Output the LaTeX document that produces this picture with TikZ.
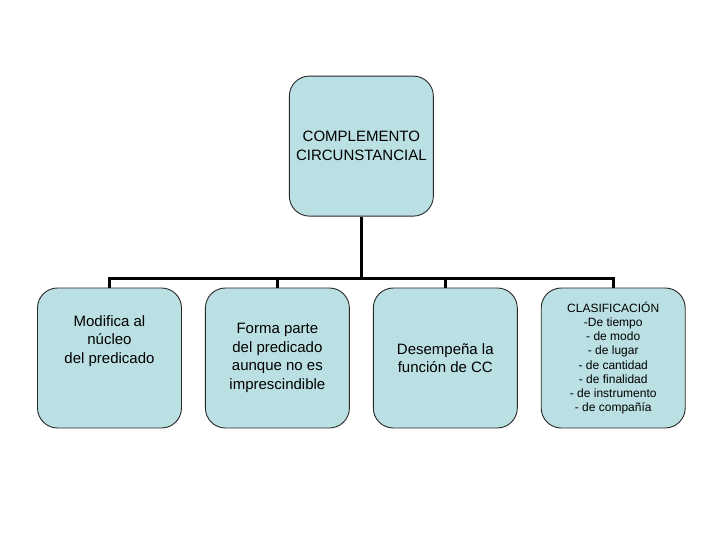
\documentclass[tikz,border=0pt]{standalone}
\usepackage{fontspec}
\setmainfont{Liberation Sans}
\usetikzlibrary{positioning, calc}
\definecolor{boxBlue}{RGB}{187, 224, 227}
\definecolor{boxEdge}{RGB}{40, 40, 40}

\begin{document}
\begin{tikzpicture}[
    node distance=23pt,
    font=\fontsize{15}{18.6}\selectfont,
    % Estilo base para cajas
    box/.style={
        draw=boxEdge,
        fill=boxBlue,
        line width=0.9pt,
        rounded corners=20pt,
        minimum height=140pt,
        minimum width=144pt,
        align=center
    },
    % Estilo para la lista pequena
    small_box/.style={
        box,
        font=\fontsize{12}{14.2}\selectfont
    },
    % Estilo para lineas de union
    connector/.style={
        line width=3pt,
        black
    }
]

    % --- 0. Marco ---
    \useasboundingbox[fill=white] (0,0) rectangle (720pt,540pt);

    % --- 1. Cajas inferiores ---
    \node[box] (modifica) at (109.5pt,182pt) {
        Modifica al\\
        núcleo\\
        del predicado\\
        ~\\
        ~
    };

    \node[box, right=of modifica] (forma) {
        Forma parte\\
        del predicado\\
        aunque no es\\
        imprescindible
    };

    \node[box, right=of forma] (funcion) {
        Desempeña la\\
        función de CC
    };

    \node[small_box, right=of funcion] (clasif) {
        CLASIFICACIÓN\\
        -De tiempo\\
        - de modo\\
        - de lugar\\
        - de cantidad\\
        - de finalidad\\
        - de instrumento\\
        - de compañía
    };

    % --- 2. Caja superior ---
    \coordinate (centro) at ($(forma.north)!0.5!(funcion.north)$);
    \node[box, above=71pt of centro] (cc) {
        COMPLEMENTO\\
        CIRCUNSTANCIAL
    };

    % --- 3. Lineas ---
    \draw[connector] (cc.south) -- ++(0,-62pt) coordinate (bus);
    \draw[connector] (bus) -| (modifica.north);
    \draw[connector] (bus) -| (forma.north);
    \draw[connector] (bus) -| (funcion.north);
    \draw[connector] (bus) -| (clasif.north);

\end{tikzpicture}
\end{document}
